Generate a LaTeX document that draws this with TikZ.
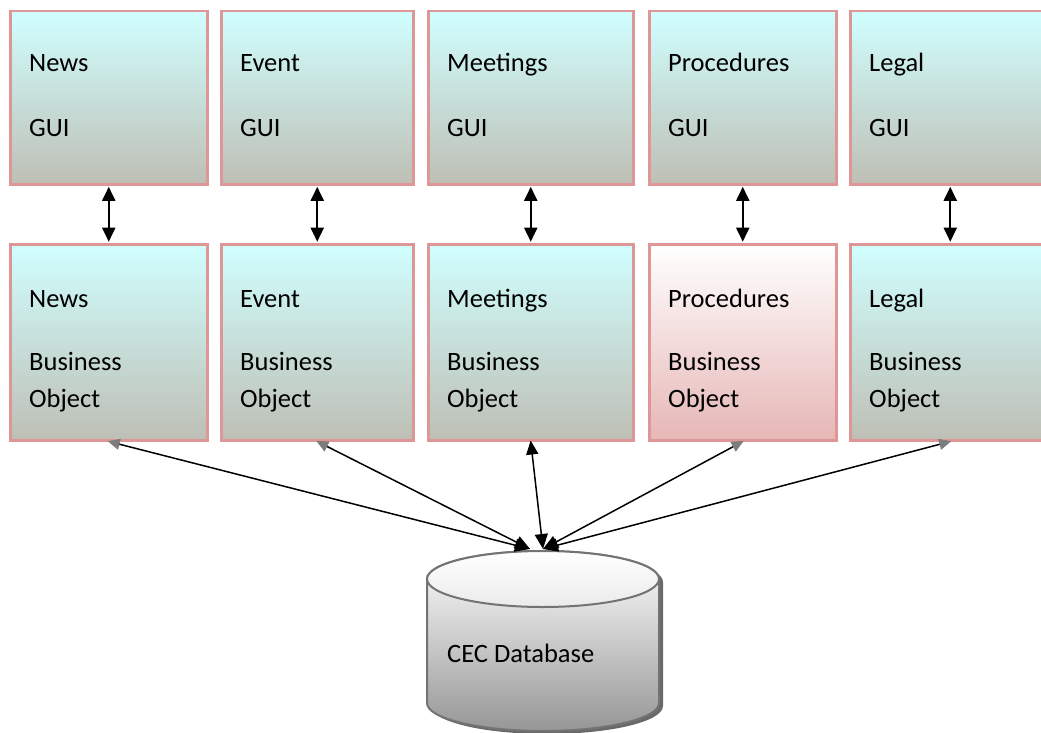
\documentclass[tikz,border=0pt]{standalone}
\usepackage{fontspec}
\setmainfont{Carlito}
\usetikzlibrary{arrows.meta}
\definecolor{guitop}{RGB}{208,255,255}
\definecolor{guibot}{RGB}{190,191,181}
\definecolor{boxedge}{RGB}{222,150,150}
\definecolor{pinkbot}{RGB}{230,183,182}
\definecolor{dbedge}{RGB}{115,115,115}
\definecolor{dbbot}{RGB}{150,150,150}
\definecolor{dbshade}{RGB}{105,105,105}
\definecolor{headgray}{RGB}{125,125,125}
\begin{document}
\begin{tikzpicture}[x=1pt,y=-1pt,
  box/.style={draw=boxedge, line width=2.5pt, top color=guitop, bottom color=guibot,
    inner sep=0pt, anchor=north west},
  guibox/.style={box, minimum height=173pt},
  bobox/.style={box, minimum height=196pt},
  lbl/.style={anchor=base west, inner sep=0pt, font=\fontsize{26.5}{32}\selectfont},
  updown/.style={{Triangle[length=14pt,width=13pt]}-{Triangle[length=14pt,width=13pt]},
    line width=1.9pt, shorten <=1.3pt, shorten >=1.3pt},
  dblink/.style={{Triangle[length=12pt,width=11pt,color=headgray]}-{Triangle[length=15pt,width=13pt]},
    line width=1.5pt, shorten <=-1pt},
  dblinkdark/.style={{Triangle[length=14pt,width=12pt]}-{Triangle[length=15pt,width=13pt]},
    line width=1.5pt, shorten <=-1pt}]
\useasboundingbox (0,0) rectangle (1041,733);

% GUI layer
\node[guibox, minimum width=197pt] (ng) at (9,10) {};
\node[guibox, minimum width=192pt] (eg) at (220,10) {};
\node[guibox, minimum width=205pt] (mg) at (427,10) {};
\node[guibox, minimum width=187pt] (pg) at (648,10) {};
\node[guibox, minimum width=200pt] (lg) at (849,10) {};

% business object layer
\node[bobox, minimum width=197pt] (nb) at (9,243) {};
\node[bobox, minimum width=192pt] (eb) at (220,243) {};
\node[bobox, minimum width=205pt] (mb) at (427,243) {};
\node[bobox, minimum width=187pt, top color=white, bottom color=pinkbot] (pb) at (648,243) {};
\node[bobox, minimum width=200pt] (lb) at (849,243) {};

% labels
\foreach \x/\w [count=\i] in {29/News,240/Event,447/Meetings,668/Procedures,869/Legal}{
  \node[lbl] (gt\i) at (\x,72) {\w};
  \node[lbl] (gu\i) at (\x,137) {GUI};
  \node[lbl] (bt\i) at (\x,307) {\w};
  \node[lbl] (bs\i) at (\x,370) {Business};
  \node[lbl] (bo\i) at (\x,407) {Object};
}

% GUI <-> business object
\draw[updown] (ng.south) -- (nb.north);
\draw[updown] (eg.south) -- (eb.north);
\draw[updown] (mg.south) -- (mb.north);
\draw[updown] (pg.south) -- (pb.north);
\draw[updown] (lg.south) -- (lb.north);

% database cylinder
\fill[dbshade, shift={(4,3)}] (427,579) -- (427,703)
  arc[start angle=180, end angle=360, x radius=116pt, y radius=28pt] -- (659,579)
  arc[start angle=0, end angle=180, x radius=116pt, y radius=28pt] -- cycle;
\path[draw=dbedge, line width=2pt, top color=white, bottom color=dbbot]
  (427,579) -- (427,703)
  arc[start angle=180, end angle=360, x radius=116pt, y radius=28pt] -- (659,579)
  arc[start angle=0, end angle=180, x radius=116pt, y radius=28pt] -- cycle;
\path[draw=dbedge, line width=2pt, top color=white, bottom color=black!8]
  (543,579) ellipse[x radius=116pt, y radius=28pt];
\node[lbl] (dbtext) at (447,662) {CEC Database};

% business objects <-> database
\coordinate (hubL) at (530,549);
\coordinate (hubR) at (543,549);
\draw[dblink] (nb.south) -- (hubL);
\draw[dblink] (eb.south) -- (hubL);
\draw[dblinkdark] (mb.south) -- (hubR);
\draw[dblink] (pb.south) -- (hubR);
\draw[dblink] (lb.south) -- (hubR);
\end{tikzpicture}
\end{document}
